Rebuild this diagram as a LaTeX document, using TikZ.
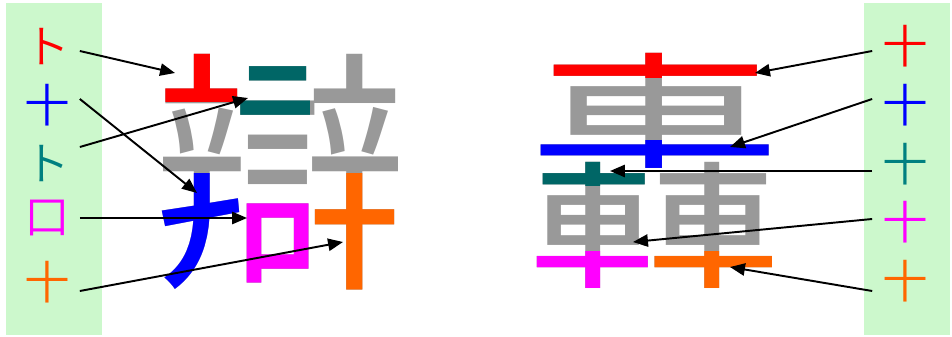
\documentclass[tikz,border=0pt]{standalone}
\usepackage{fontspec}
\newfontfamily\cjkfont{Noto Sans CJK JP}[UprightFont=* DemiLight]
\usetikzlibrary{arrows.meta,calc}
\definecolor{bggreen}{HTML}{CCF8CC}
\definecolor{partgray}{HTML}{999999}
\definecolor{partred}{HTML}{FF0000}
\definecolor{partblue}{HTML}{0000FF}
\definecolor{partteal}{HTML}{006666}
\definecolor{labteal}{HTML}{008080}
\definecolor{partmagenta}{HTML}{FF00FF}
\definecolor{partorange}{HTML}{FF6600}
\tikzset{
	lab/.style={font=\cjkfont\fontsize{26}{26}\selectfont, inner sep=0pt, minimum width=1.3cm},
	big/.style={font=\cjkfont\fontsize{146}{146}\selectfont, inner sep=0pt},
	arr/.style={draw=black, line width=1.1pt, -{Triangle[length=8.5pt, width=7pt]}}
}
\begin{document}
\begin{tikzpicture}[x=0.02cm, y=-0.02cm]
	\useasboundingbox (0,0) rectangle (952,337);
	\fill[bggreen] (6,3) rectangle (102,335);
	\fill[bggreen] (864,3) rectangle (950,335);
	\node (left) at (281,172) [big, text=partgray] {辯};
	\node (right) at (655,171) [big, text=partgray] {轟};
	\begin{scope}
		\clip (150,45) rectangle (240,102);
		\node (leftred) at (left) [big, text=partred] {辯};
	\end{scope}
	\begin{scope}
		\clip (150,174) rectangle (240,295);
		\node (leftblue) at (left) [big, text=partblue] {辯};
	\end{scope}
	\begin{scope}
		\clip (240,55) rectangle (309,115);
		\node (leftteal) at (left) [big, text=partteal] {辯};
	\end{scope}
	\begin{scope}
		\clip (240,192) rectangle (312,295);
		\node (leftmagenta) at (left) [big, text=partmagenta] {辯};
	\end{scope}
	\begin{scope}
		\clip (312,174) rectangle (410,295);
		\node (leftorange) at (left) [big, text=partorange] {辯};
	\end{scope}
	\begin{scope}
		\clip (530,45) rectangle (780,78);
		\node (rightred) at (right) [big, text=partred] {轟};
	\end{scope}
	\begin{scope}
		\clip (530,140) rectangle (780,160) (640,160) rectangle (665,172);
		\node (rightblue) at (right) [big, text=partblue] {轟};
	\end{scope}
	\begin{scope}
		\clip (530,158) rectangle (640,186) (640,170) rectangle (652,186);
		\node (rightteal) at (right) [big, text=partteal] {轟};
	\end{scope}
	\begin{scope}
		\clip (530,252) rectangle (652,295);
		\node (rightmagenta) at (right) [big, text=partmagenta] {轟};
	\end{scope}
	\begin{scope}
		\clip (652,252) rectangle (780,295);
		\node (rightorange) at (right) [big, text=partorange] {轟};
	\end{scope}
	\node (L1) at (47,47) [lab, text=partred] {ト};
	\node (L2) at (47,105) [lab, text=partblue] {十};
	\node (L3) at (47,164) [lab, text=labteal] {ト};
	\node (L4) at (47,218) [lab, text=partmagenta] {口};
	\node (L5) at (47,282) [lab, text=partorange] {十};
	\node (R1) at (905,46) [lab, text=partred] {十};
	\node (R2) at (905,105) [lab, text=partblue] {十};
	\node (R3) at (905,164) [lab, text=labteal] {十};
	\node (R4) at (905,222) [lab, text=partmagenta] {十};
	\node (R5) at (905,281) [lab, text=partorange] {十};
	\coordinate (a1) at (175,73);
	\coordinate (a2) at (197,193);
	\coordinate (a3) at (248,98);
	\coordinate (a4) at (247,218);
	\coordinate (a5) at (343,242);
	\coordinate (b1) at (755,73);
	\coordinate (b2) at (730,147);
	\coordinate (b3) at (610,171);
	\coordinate (b4) at (633,242);
	\coordinate (b5) at (730,267);
	\draw[arr] ($(L1.east)+(0,4)$) -- (a1);
	\draw[arr] ($(L2.east)+(0,-6)$) -- (a2);
	\draw[arr] ($(L3.east)+(0,-17)$) -- (a3);
	\draw[arr] (L4.east) -- (a4);
	\draw[arr] ($(L5.east)+(0,9)$) -- (a5);
	\draw[arr] ($(R1.west)+(0,5)$) -- (b1);
	\draw[arr] ($(R2.west)+(0,-6)$) -- (b2);
	\draw[arr] ($(R3.west)+(0,7)$) -- (b3);
	\draw[arr] ($(R4.west)+(0,-3)$) -- (b4);
	\draw[arr] ($(R5.west)+(0,10)$) -- (b5);
\end{tikzpicture}
\end{document}
